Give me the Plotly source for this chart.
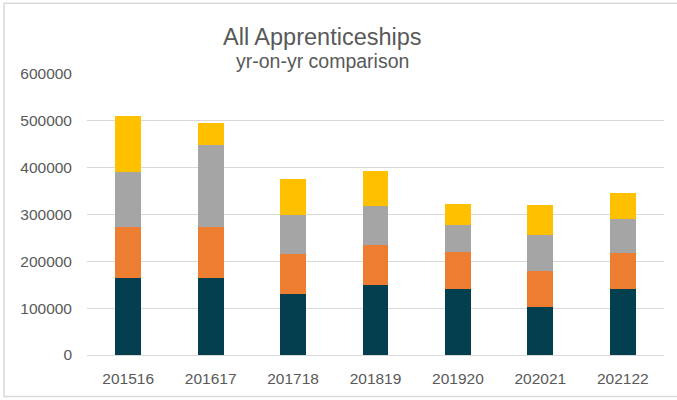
import plotly.graph_objects as go

years = ["201516", "201617", "201718", "201819", "201920", "202021", "202122"]

# stacked segments, bottom to top
seg1 = [164000, 164000, 130000, 150500, 142000, 101500, 140000]
seg2 = [109000, 109000, 86500, 84000, 79000, 78500, 78000]
seg3 = [118500, 175000, 82500, 84500, 57500, 76500, 72600]
seg4 = [118500, 48000, 76000, 74000, 44000, 64000, 56100]

colors = ["#033F4F", "#ED7D31", "#A5A5A5", "#FFC000"]

fig = go.Figure()
for vals, c in zip([seg1, seg2, seg3, seg4], colors):
    fig.add_trace(go.Bar(x=years, y=vals, marker=dict(color=c, line=dict(width=0)),
                         showlegend=False))

grey_txt = "#595959"
fig.update_layout(
    barmode="stack",
    bargap=0.685,
    width=677, height=400,
    margin=dict(l=87, r=13, t=74, b=45),
    plot_bgcolor="white", paper_bgcolor="white",
    font=dict(family="Liberation Sans", color=grey_txt, size=15.5),
    xaxis=dict(type="category", showgrid=False, showline=False, ticks="",
               ticklabelstandoff=12),
    yaxis=dict(range=[0, 600000], dtick=100000, showgrid=True, gridcolor="#D9D9D9",
               gridwidth=1, zeroline=True, zerolinecolor="#D9D9D9", zerolinewidth=1,
               tickformat="d", ticklabelstandoff=14),
)

fig.add_annotation(text="All Apprenticeships", xref="paper", yref="paper",
                   x=0.4076, y=1.131, xanchor="center", yanchor="middle",
                   showarrow=False, font=dict(size=23.5, color="#595959"))
fig.add_annotation(text="yr-on-yr comparison", xref="paper", yref="paper",
                   x=0.4090, y=1.045, xanchor="center", yanchor="middle",
                   showarrow=False, font=dict(size=19.5, color="#595959"))

# outer chart border (right edge runs off the picture)
fig.add_shape(type="rect", xref="paper", yref="paper",
              x0=-0.1438, x1=1.06, y0=-0.148, y1=1.2515,
              line=dict(color="#D9D9D9", width=1.5), layer="below")

# drop the browser's default body margin so the figure sits at 0,0
fig.write_html("out.html", config={"displayModeBar": False},
               post_script="document.body.style.margin='0';")
